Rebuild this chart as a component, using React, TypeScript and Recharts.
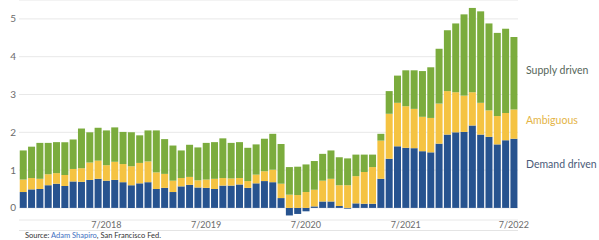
import { Bar, BarChart, CartesianGrid, XAxis, YAxis } from 'recharts';

// Monthly bars, 8/2017 through 7/2022
const months = [
  '8/2017', '9/2017', '10/2017', '11/2017', '12/2017',
  '1/2018', '2/2018', '3/2018', '4/2018', '5/2018', '6/2018', '7/2018', '8/2018', '9/2018', '10/2018', '11/2018', '12/2018',
  '1/2019', '2/2019', '3/2019', '4/2019', '5/2019', '6/2019', '7/2019', '8/2019', '9/2019', '10/2019', '11/2019', '12/2019',
  '1/2020', '2/2020', '3/2020', '4/2020', '5/2020', '6/2020', '7/2020', '8/2020', '9/2020', '10/2020', '11/2020', '12/2020',
  '1/2021', '2/2021', '3/2021', '4/2021', '5/2021', '6/2021', '7/2021', '8/2021', '9/2021', '10/2021', '11/2021', '12/2021',
  '1/2022', '2/2022', '3/2022', '4/2022', '5/2022', '6/2022', '7/2022',
];

const demandDriven = [
  0.42, 0.49, 0.50, 0.60, 0.64,
  0.58, 0.70, 0.69, 0.74, 0.77, 0.72, 0.74, 0.68, 0.60, 0.65, 0.68, 0.50,
  0.53, 0.42, 0.57, 0.61, 0.54, 0.53, 0.50, 0.59, 0.59, 0.62, 0.53, 0.65,
  0.71, 0.68, 0.26, -0.20, -0.16, -0.09, 0.04, 0.17, 0.17, 0.05, -0.02, 0.12,
  0.11, 0.11, 0.77, 1.30, 1.63, 1.59, 1.58, 1.50, 1.47, 1.70, 1.94, 2.00,
  2.01, 2.18, 1.94, 1.88, 1.68, 1.79, 1.83,
];

const ambiguous = [
  0.33, 0.30, 0.27, 0.29, 0.28,
  0.29, 0.33, 0.36, 0.46, 0.48, 0.41, 0.48, 0.48, 0.50, 0.54, 0.55, 0.44,
  0.37, 0.30, 0.22, 0.21, 0.19, 0.22, 0.27, 0.20, 0.19, 0.17, 0.18, 0.23,
  0.26, 0.33, 0.38, 0.35, 0.34, 0.42, 0.44, 0.55, 0.60, 0.55, 0.60, 0.72,
  0.84, 0.97, 1.01, 1.19, 1.15, 1.10, 1.04, 0.91, 0.91, 1.06, 1.15, 1.06,
  0.96, 0.88, 0.84, 0.70, 0.75, 0.72, 0.77,
];

const supplyDriven = [
  0.77, 0.83, 0.95, 0.83, 0.82,
  0.87, 0.78, 1.05, 0.80, 0.87, 0.92, 0.91, 0.85, 0.90, 0.73, 0.82, 1.11,
  0.92, 0.93, 0.73, 0.85, 0.87, 0.97, 0.97, 1.05, 0.94, 0.95, 0.88, 0.80,
  0.86, 0.95, 1.05, 0.73, 0.75, 0.73, 0.76, 0.71, 0.75, 0.74, 0.71, 0.57,
  0.46, 0.33, 0.18, 0.60, 0.72, 0.95, 1.02, 1.21, 1.34, 1.45, 1.61, 1.82,
  2.15, 2.23, 2.42, 2.30, 2.20, 2.23, 1.92,
];

// where the x labels sit, and what they read
const tickMonths = ['6/2018', '6/2019', '6/2020', '6/2021', '7/2022'];
const tickLabels = ['7/2018', '7/2019', '7/2020', '7/2021', '7/2022'];
const yTicks = [0, 1, 2, 3, 4, 5];

const COLORS = {
  demand: '#27538f',
  ambiguous: '#f5c342',
  supply: '#7bac3d',
};

const rows = months.map((m, i) => ({
  month: m,
  demand: demandDriven[i],
  ambiguous: ambiguous[i],
  supply: supplyDriven[i],
}));

const font = 'Lato, "Open Sans", sans-serif';

export default function App() {
  return (
    <div style={{ position: 'absolute', left: 0, top: 0, width: 599, height: 240, background: '#fff', fontFamily: font, overflow: 'hidden' }}>
      <BarChart
        width={599}
        height={240}
        data={rows}
        stackOffset="sign"
        barCategoryGap="9%"
        margin={{ top: 0, right: 81, bottom: 0, left: 0 }}
      >
        <CartesianGrid vertical={false} stroke="#e8e8e8" />
        <XAxis
          dataKey="month"
          ticks={tickMonths}
          tickFormatter={(v: string) => tickLabels[tickMonths.indexOf(v)]}
          interval={0}
          axisLine={false}
          tickLine={false}
          tickSize={0}
          tickMargin={2}
          height={20}
          tick={{ fontSize: 9, fill: '#6b6b6b', fontFamily: font }}
        />
        <YAxis
          domain={[-0.32, 5.5]}
          ticks={yTicks}
          allowDataOverflow
          width={19}
          axisLine={false}
          tickLine={false}
          tickSize={0}
          tickMargin={3}
          tick={{ fontSize: 10, fill: '#6b6b6b', fontFamily: font }}
        />
        <Bar dataKey="demand" stackId="a" fill={COLORS.demand} isAnimationActive={false} />
        <Bar dataKey="ambiguous" stackId="a" fill={COLORS.ambiguous} isAnimationActive={false} />
        <Bar dataKey="supply" stackId="a" fill={COLORS.supply} isAnimationActive={false} />
      </BarChart>

      <div style={{ position: 'absolute', left: 526, top: 64, fontSize: 10.5, color: '#56665a', whiteSpace: 'nowrap' }}>
        Supply driven
      </div>
      <div style={{ position: 'absolute', left: 526, top: 114, fontSize: 10.5, color: '#e4b445', whiteSpace: 'nowrap' }}>
        Ambiguous
      </div>
      <div style={{ position: 'absolute', left: 526, top: 158, fontSize: 10.5, color: '#4a5a78', whiteSpace: 'nowrap' }}>
        Demand driven
      </div>

      <div style={{ position: 'absolute', left: 19, top: 230, width: 499, borderTop: '1px solid #e4e4e4' }} />
      <div style={{ position: 'absolute', left: 25, top: 231, fontSize: 7.5, color: '#333', whiteSpace: 'nowrap' }}>
        Source: <span style={{ color: '#3f6fc0' }}>Adam Shapiro</span>, San Francisco Fed.
      </div>
    </div>
  );
}
